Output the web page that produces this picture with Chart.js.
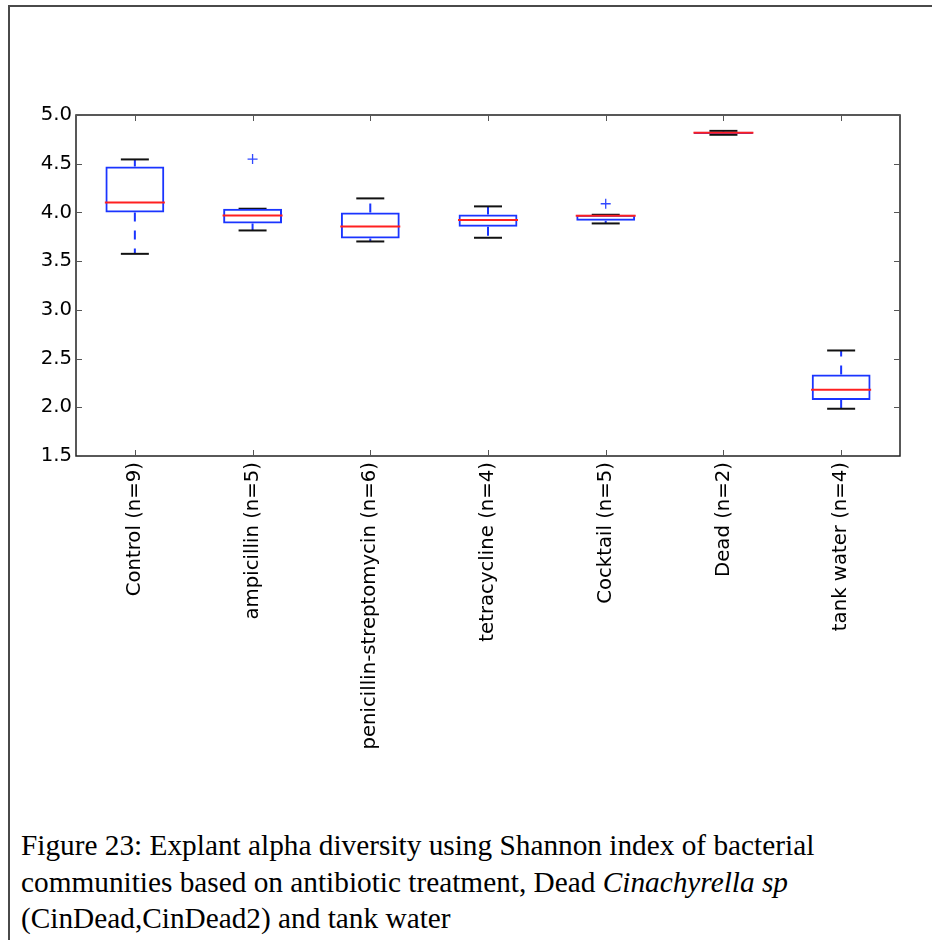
<!DOCTYPE html>
<html lang="en">
<head>
    <meta charset="UTF-8">
    <title>Explant alpha diversity</title>
    <script src="https://cdn.jsdelivr.net/npm/chart.js"></script>
    <style>
        html, body { margin: 0; padding: 0; background: #fff; overflow: hidden; }
        body { width: 932px; height: 940px; position: relative; }
        #frame { position: absolute; left: 8px; top: 5px; width: 1000px; height: 1000px;
                 border-left: 2px solid #4a4a4a; border-top: 2px solid #4a4a4a; }
        #chartBox { position: absolute; left: 0; top: 0; width: 932px; height: 780px; }
        #caption { position: absolute; left: 21px; top: 827px; font-family: "Liberation Serif", serif;
                   font-size: 29.3px; line-height: 36.5px; color: #000; white-space: nowrap; }
    </style>
</head>
<body>
    <div id="frame"></div>
    <div id="chartBox"><canvas id="boxChart" width="932" height="780"></canvas></div>
    <div id="caption">
        Figure 23: Explant alpha diversity using Shannon index of bacterial<br>
        communities based on antibiotic treatment, Dead <i>Cinachyrella sp</i><br>
        (CinDead,CinDead2) and tank water
    </div>

    <script>
        // groups and Shannon index summary
        const categories = ["Control (n=9)", "ampicillin (n=5)", "penicillin-streptomycin (n=6)",
            "tetracycline (n=4)", "Cocktail (n=5)", "Dead (n=2)", "tank water (n=4)"];
        const whiskerLow = [3.575, 3.815, 3.702, 3.740, 3.887, 4.797, 1.985];
        const q1 = [4.000, 3.887, 3.733, 3.853, 3.915, 4.806, 2.074];
        const median = [4.103, 3.969, 3.856, 3.922, 3.966, 4.817, 2.180];
        const q3 = [4.472, 4.038, 4.000, 3.980, 3.976, 4.827, 2.337];
        const whiskerHigh = [4.544, 4.038, 4.144, 4.062, 3.976, 4.837, 2.583];
        const outlierGroups = ["ampicillin (n=5)", "Cocktail (n=5)"];
        const outlierValues = [4.548, 4.089];
        const yMin = 1.5, yMax = 5.0, yStep = 0.5;

        // whisker segments: box edge -> whisker end, broken by nulls
        let whiskerPts = [];
        categories.forEach(function (c, i) {
            whiskerPts.push({ x: c, y: q3[i] }, { x: c, y: whiskerHigh[i] }, { x: c, y: null });
            whiskerPts.push({ x: c, y: q1[i] }, { x: c, y: whiskerLow[i] }, { x: c, y: null });
        });
        let capPts = [];
        categories.forEach(function (c, i) {
            capPts.push({ x: c, y: whiskerLow[i] }, { x: c, y: whiskerHigh[i] });
        });

        // matplotlib-like frame with inward ticks on all four sides
        const frameTicks = {
            id: "frameTicks",
            afterDraw(chart) {
                const ctx = chart.ctx, a = chart.chartArea;
                const xs = chart.scales.x, ys = chart.scales.y;
                ctx.save();
                ctx.strokeStyle = "#222";
                ctx.lineWidth = 1.5;
                ctx.strokeRect(a.left, a.top, a.right - a.left, a.bottom - a.top);
                ctx.strokeStyle = "#555";
                ctx.lineWidth = 1;
                ctx.beginPath();
                xs.ticks.forEach(function (t, i) {
                    let px = Math.round(xs.getPixelForTick(i)) + 0.5;
                    ctx.moveTo(px, a.top); ctx.lineTo(px, a.top + 6);
                    ctx.moveTo(px, a.bottom); ctx.lineTo(px, a.bottom - 6);
                });
                ys.ticks.forEach(function (t, i) {
                    let py = Math.round(ys.getPixelForTick(i)) + 0.5;
                    ctx.moveTo(a.left, py); ctx.lineTo(a.left + 6, py);
                    ctx.moveTo(a.right, py); ctx.lineTo(a.right - 6, py);
                });
                ctx.stroke();
                ctx.restore();
            }
        };

        const ctx = document.getElementById("boxChart").getContext("2d");
        new Chart(ctx, {
            type: "bar",
            data: {
                labels: categories,
                datasets: [
                    {
                        type: "line",
                        label: "outliers",
                        data: outlierGroups.map(function (g, i) { return { x: g, y: outlierValues[i] }; }),
                        showLine: false,
                        pointStyle: "cross",
                        pointRadius: 5,
                        pointBorderWidth: 1.3,
                        pointBorderColor: "#3048ff",
                        order: 0
                    },
                    {
                        type: "line",
                        label: "median",
                        data: categories.map(function (c, i) { return { x: c, y: median[i] }; }),
                        showLine: false,
                        pointStyle: "line",
                        pointRadius: 30,
                        pointBorderWidth: 2,
                        pointBorderColor: "#ff2020",
                        order: 1
                    },
                    {
                        label: "box",
                        data: categories.map(function (c, i) { return [q1[i], q3[i]]; }),
                        backgroundColor: "rgba(0,0,0,0)",
                        borderColor: "#1a35ff",
                        borderWidth: 2,
                        borderSkipped: false,
                        categoryPercentage: 1.0,
                        barPercentage: 0.5,
                        order: 2
                    },
                    {
                        type: "line",
                        label: "caps",
                        data: capPts,
                        showLine: false,
                        pointStyle: "line",
                        pointRadius: 14,
                        pointBorderWidth: 2,
                        pointBorderColor: "#111",
                        order: 3
                    },
                    {
                        type: "line",
                        label: "whiskers",
                        data: whiskerPts,
                        borderColor: "#1a35ff",
                        borderWidth: 2,
                        borderDash: [9, 9],
                        pointRadius: 0,
                        spanGaps: false,
                        fill: false,
                        order: 4
                    }
                ]
            },
            options: {
                responsive: false,
                animation: false,
                devicePixelRatio: 1,
                layout: { padding: { top: 115, right: 9, left: 0, bottom: 0 } },
                plugins: {
                    legend: { display: false },
                    tooltip: { enabled: false }
                },
                scales: {
                    x: {
                        grid: { display: false, drawTicks: false },
                        border: { display: false },
                        ticks: {
                            autoSkip: false,
                            minRotation: 90,
                            maxRotation: 90,
                            padding: 6,
                            color: "#000",
                            font: { family: "DejaVu Sans", size: 19.7 }
                        },
                        afterFit: function (scale) { scale.height = 324; }
                    },
                    y: {
                        min: yMin,
                        max: yMax,
                        grid: { display: false, drawTicks: false },
                        border: { display: false },
                        ticks: {
                            stepSize: yStep,
                            padding: 4,
                            color: "#000",
                            font: { family: "DejaVu Sans", size: 19.7 },
                            callback: function (v) { return v.toFixed(1); }
                        },
                        afterFit: function (scale) { scale.width = 76; }
                    }
                }
            },
            plugins: [frameTicks]
        });
    </script>
</body>
</html>
